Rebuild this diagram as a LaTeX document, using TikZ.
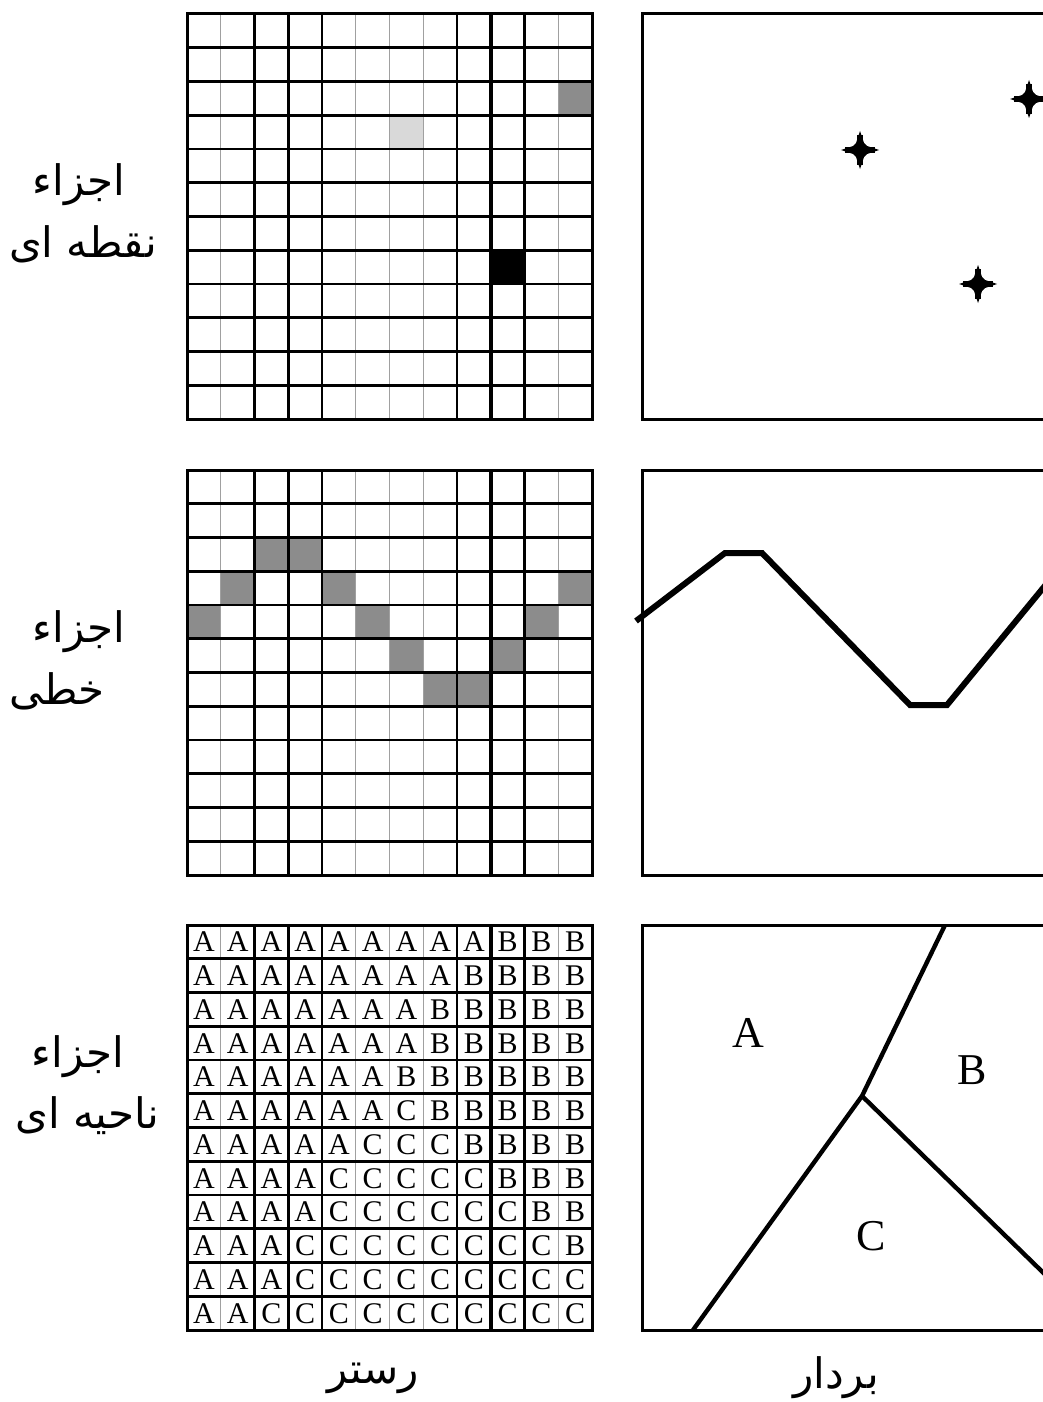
\documentclass[tikz,border=0pt]{standalone}
\usepackage{fontspec}
\setmainfont{Liberation Serif}
\newfontfamily\arabicfont[Script=Arabic]{DejaVu Sans}
\TeXXeTstate=1
\usepackage{tikz}
\usetikzlibrary{positioning}
\definecolor{cellgray}{HTML}{8C8C8C}
\definecolor{palegray}{HTML}{D9D9D9}
\definecolor{thingray}{HTML}{A0A0A0}
\tikzset{
  gridthin/.style={draw=thingray, line width=0.6pt},
  gridrow/.style={draw=black, line width=1.3pt},
  gridcol/.style={draw=black, line width=1.4pt},
  gridheavy/.style={draw=black, line width=2pt},
  frame/.style={draw=black, line width=1.5pt},
  feature/.style={draw=black, line width=2.2pt},
  cellchar/.style={inner sep=0pt, font=\fontsize{15}{16}\selectfont},
  zonechar/.style={inner sep=0pt, font=\fontsize{22}{24}\selectfont},
  caption/.style={inner sep=0pt, font=\fontsize{21}{24}\arabicfont},
  ptmark/.pic={\fill[black] (-19,0) -- (-7,-4) -- (-4,-7) -- (0,-19) -- (4,-7) -- (7,-4)
      -- (19,0) -- (7,4) -- (4,7) -- (0,19) -- (-4,7) -- (-7,4) -- cycle;
    \draw[black, line width=2.6pt] (-15,0) -- (15,0) (0,-15) -- (0,15);}
}

\begin{document}
\begin{tikzpicture}[x=0.5pt, y=-0.5pt]
  \useasboundingbox (0,0) rectangle (1043,1402);
  \clip (0,0) rectangle (1043,1402);

  % raster cells
  \fill[cellgray] (187+33.75*11,14+33.75*2) rectangle ++(33.75,33.75);
  \fill[palegray] (187+33.75*6,14+33.75*3) rectangle ++(33.75,33.75);
  \fill[black] (187+33.75*9,14+33.75*7) rectangle ++(33.75,33.75);
  \foreach \ci/\ri in {2/2,3/2,1/3,4/3,11/3,0/4,5/4,10/4,6/5,9/5,7/6,8/6}
    \fill[cellgray] (187+33.75*\ci,470+33.75*\ri) rectangle ++(33.75,33.75);

  % raster grids
  \foreach \gy in {14,470,925} {
    \foreach \k in {1,5,6,7,11} \draw[gridthin] (187+33.75*\k,\gy) -- (187+33.75*\k,\gy+405);
    \foreach \k in {1,...,11} \draw[gridrow] (187,\gy+33.75*\k) -- (592,\gy+33.75*\k);
    \foreach \k in {2,3,4,8,10} \draw[gridcol] (187+33.75*\k,\gy) -- (187+33.75*\k,\gy+405);
    \draw[gridheavy] (187+33.75*9,\gy) -- (187+33.75*9,\gy+405);
    \draw[frame] (187,\gy) rectangle (592,\gy+405);
  }

  % zone letters
  \foreach \letters [count=\ri from 0] in {
    {A,A,A,A,A,A,A,A,A,B,B,B},
    {A,A,A,A,A,A,A,A,B,B,B,B},
    {A,A,A,A,A,A,A,B,B,B,B,B},
    {A,A,A,A,A,A,A,B,B,B,B,B},
    {A,A,A,A,A,A,B,B,B,B,B,B},
    {A,A,A,A,A,A,C,B,B,B,B,B},
    {A,A,A,A,A,C,C,C,B,B,B,B},
    {A,A,A,A,C,C,C,C,C,B,B,B},
    {A,A,A,A,C,C,C,C,C,C,B,B},
    {A,A,A,C,C,C,C,C,C,C,C,B},
    {A,A,A,C,C,C,C,C,C,C,C,C},
    {A,A,C,C,C,C,C,C,C,C,C,C}} {
    \foreach \ch [count=\ci from 0] in \letters
      \node[cellchar] (z-\ri-\ci) at (203.9+33.75*\ci,942+33.75*\ri) {\ch};
  }

  % vector panels
  \foreach \gy in {14,470,925} \draw[frame] (642,\gy) rectangle (1070,\gy+405);
  \pic at (860,150) {ptmark};
  \pic at (1029,99) {ptmark};
  \pic at (978,284) {ptmark};

  \draw[black, line width=3pt, line join=miter]
    (636,621) -- (725,553) -- (762,553) -- (910,705) -- (947,705) -- (1062,565);

  \coordinate (top) at (945,925);
  \coordinate (mid) at (862,1096);
  \coordinate (low) at (693,1330);
  \coordinate (east) at (1062,1291);
  \draw[feature] (top) -- (mid) -- (low);
  \draw[feature] (mid) -- (east);
  \node[zonechar] (la) at (748,1033) {A};
  \node[zonechar] (lb) at (972,1070) {B};
  \node[zonechar] (lc) at (871,1236) {C};

  % captions
  \node[caption] (pt1) at (79,185) {\beginR اجزاء\endR};
  \node[caption] (pt2) at (83,244) {\beginR نقطه ای\endR};
  \node[caption] (ln1) at (79,632) {\beginR اجزاء\endR};
  \node[caption] (ln2) at (57,691) {\beginR خطی\endR};
  \node[caption] (ar1) at (78,1057) {\beginR اجزاء\endR};
  \node[caption] (ar2) at (87,1116) {\beginR ناحیه ای\endR};
  \node[caption] (rs) at (373,1378) {\beginR رستر\endR};
  \node[caption] (vc) at (836,1378) {\beginR بردار\endR};
\end{tikzpicture}
\end{document}
